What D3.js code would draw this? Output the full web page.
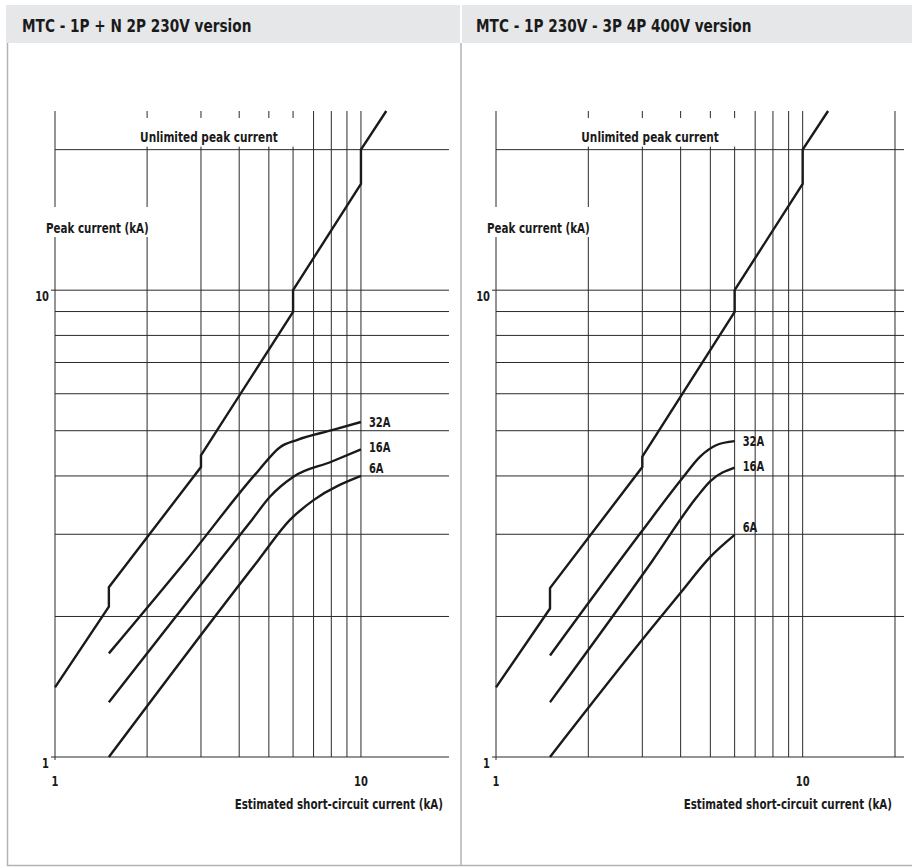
<!DOCTYPE html>
<html><head><meta charset="utf-8">
<script src="https://cdn.jsdelivr.net/npm/d3@7"></script>
<style>
html,body{margin:0;padding:0;background:#fff;}
svg text{font-family:"DejaVu Sans Condensed","DejaVu Sans",sans-serif;font-weight:bold;fill:#1a1a1a;}
</style></head>
<body><svg id="c" width="912" height="867"></svg>
<script>
// ---- data ----
const titles = ["MTC - 1P + N 2P 230V version", "MTC - 1P 230V - 3P 4P 400V version"];
const xGridLeft = [1,2,3,4,5,6,7,8,9,10];
const xGridRight = [1,2,3,4,5,6,7,8,9,10,20];
const yGrid = [1,2,3,4,5,6,7,8,9,10,20];
const xTickLabels = [1,10];
const yTickLabels = [1,10];
const ratings = ["32A","16A","6A"];

const mainLeft = [[1,1.41],[1.5,2.1],[1.5,2.31],[3,4.18],[3,4.43],[6,8.98],[6,10],[10,16.9],[10,20],[12.1,24.2]];
const a32Left = [[1.5,1.667],[2.69,2.64],[4.6,4.09],[5.44,4.61],[6.2,4.78],[8.1,5.02],[10,5.22]];
const a16Left = [[1.5,1.31],[3.46,2.64],[4.4,3.22],[5.04,3.61],[6.0,3.98],[8.0,4.29],[10,4.56]];
const a6Left  = [[1.5,1.0],[4.62,2.64],[5.86,3.22],[7.0,3.55],[10,4.0]];

const mainRight = [[1,1.41],[1.5,2.08],[1.5,2.30],[3,4.18],[3,4.40],[6,8.98],[6,10],[10,16.9],[10,20],[12.1,24.2]];
const a32Right = [[1.5,1.65],[2.95,3.01],[4.08,3.98],[4.63,4.40],[5.24,4.66],[6,4.75]];
const a16Right = [[1.5,1.31],[3.22,2.62],[4.51,3.6],[5.0,3.9],[6,4.17]];
const a6Right  = [[1.5,1.0],[3.18,1.87],[3.98,2.24],[4.99,2.68],[6,2.99]];

const labelShift = {"32A":0,"16A":-2,"6A":-8};
const CONDENSE = 0.82;

const svg = d3.select("#c");

function txt(g, x, y, size, s, anchor){
  return g.append("text")
    .attr("transform", `translate(${x},${y}) scale(${CONDENSE},1)`)
    .attr("font-size",size)
    .attr("text-anchor",anchor||"start").text(s);
}

function panel(cfg){
  const g = svg.append("g");
  g.append("rect").attr("x",cfg.hx).attr("y",5).attr("width",cfg.hw).attr("height",38).attr("fill","#e6e7e8");
  txt(g, cfg.tx, 31.5, 18.5, cfg.title);

  const x = d3.scaleLog().domain([1,cfg.xmax]).range([cfg.x0,cfg.x1]);
  const y = d3.scaleLog().domain([1,24.2]).range([757,111]);

  const grid = g.append("g").attr("stroke","#2a2a2a").attr("stroke-width",1);
  yGrid.forEach(v=>{
    grid.append("line").attr("x1",x(1)).attr("x2",cfg.x1).attr("y1",y(v)).attr("y2",y(v));
  });
  cfg.xGrid.forEach(v=>{
    grid.append("line").attr("x1",x(v)).attr("x2",x(v)).attr("y1",y(24.2)).attr("y2",v===1?760:y(1));
  });
  yTickLabels.forEach(v=>{
    grid.append("line").attr("x1",x(1)-4).attr("x2",x(1)).attr("y1",y(v)).attr("y2",y(v));
    txt(g, x(1)-6, y(v)+11, 13.5, String(v), "end");
  });
  xTickLabels.forEach(v=>{
    txt(g, x(v), 786, 13.5, String(v), "middle");
  });

  // white masks behind in-plot labels
  g.append("rect").attr("x",x(2)-8).attr("y",y(24.2)+7).attr("width",x(6)-x(2)+13).attr("height",y(20)-y(24.2)-10).attr("fill","#fff");
  g.append("rect").attr("x",x(1)-10).attr("y",207).attr("width",x(2)-x(1)+13).attr("height",30).attr("fill","#fff");

  txt(g, x(2)-7, 141.5, 14.3, "Unlimited peak current");
  txt(g, x(1)-9, 233, 14, "Peak current (kA)");
  txt(g, cfg.xlabR, 809, 14, "Estimated short-circuit current (kA)", "end");

  const line = d3.line().x(d=>x(d[0])).y(d=>y(d[1]));
  g.append("path").attr("d",line(cfg.main)).attr("fill","none").attr("stroke","#1a1a1a").attr("stroke-width",2.4);
  const sm = d3.line().x(d=>x(d[0])).y(d=>y(d[1])).curve(d3.curveMonotoneX);
  cfg.rated.forEach((arr,i)=>{
    g.append("path").attr("d",sm(arr)).attr("fill","none").attr("stroke","#1a1a1a").attr("stroke-width",2.4);
    const last = arr[arr.length-1];
    txt(g, x(last[0])+8, y(last[1])+labelShift[ratings[i]]+5, 13.5, ratings[i]);
  });

  g.append("path").attr("d",cfg.border).attr("fill","none").attr("stroke","#b3b3b3").attr("stroke-width",1.5);
}

panel({title:titles[0],hx:6,hw:454,tx:22,x0:55,x1:449,xmax:19.4,xGrid:xGridLeft,xlabR:443,
  main:mainLeft,rated:[a32Left,a16Left,a6Left],border:"M7.5,43V865.5H461V43"});
panel({title:titles[1],hx:462,hw:450,tx:476,x0:496,x1:904,xmax:21.4,xGrid:xGridRight,xlabR:892,
  main:mainRight,rated:[a32Right,a16Right,a6Right],border:"M461,865.5H912"});
</script></body></html>
